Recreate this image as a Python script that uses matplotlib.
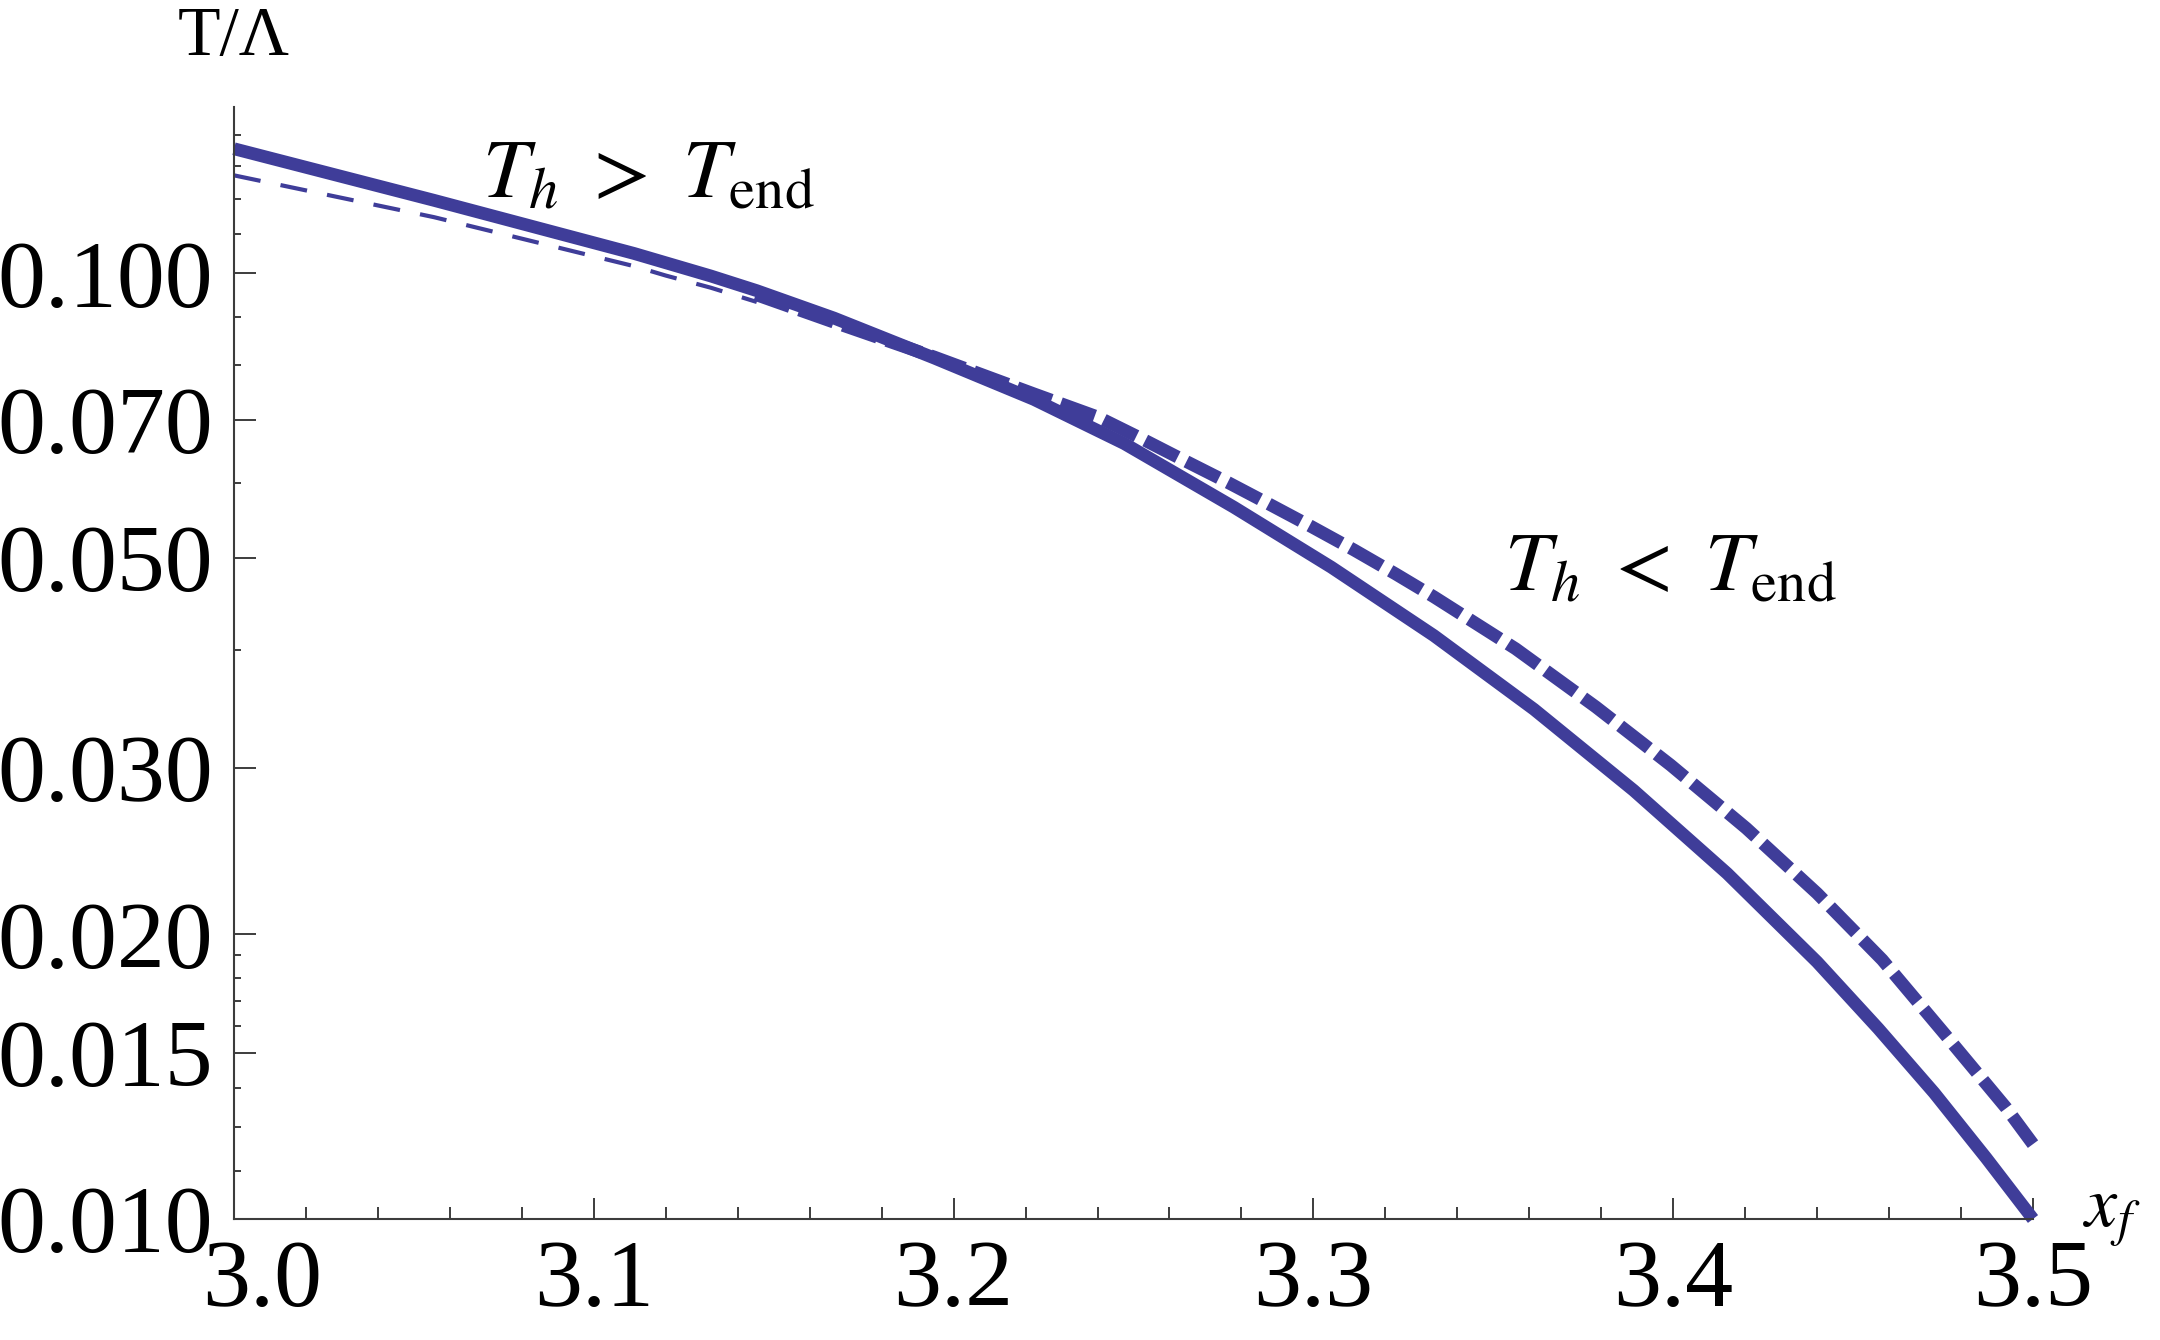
import matplotlib
matplotlib.use("Agg")
import matplotlib.pyplot as plt
from matplotlib.transforms import ScaledTranslation

plt.rcParams['font.family'] = ['Liberation Serif', 'DejaVu Serif']
plt.rcParams['mathtext.fontset'] = 'stix'

# values (x_f, T/Lambda)
# solid curve: the branch with the kink near x_f = 3.25
solid_x = [3.0, 3.0556, 3.1112, 3.1325, 3.1453, 3.1668, 3.1946, 3.2223, 3.2474,
           3.2779, 3.305, 3.3335, 3.3613, 3.389, 3.415, 3.44, 3.457, 3.4725, 3.487, 3.5]
solid_y = [0.1355, 0.1195, 0.1050, 0.0994, 0.0959, 0.0897, 0.0814, 0.0736, 0.0661,
           0.0566, 0.0489, 0.0414, 0.0346, 0.0284, 0.0232, 0.0187, 0.0159, 0.0136, 0.0116, 0.0100]

# thin dashed piece (left)
dash_thin_x = [3.0, 3.0556, 3.1112, 3.12, 3.1325, 3.1453]
dash_thin_y = [0.127, 0.1147, 0.1018, 0.0995, 0.0966, 0.0933]

# thick dashed piece (right)
dash_thick_x = [3.145, 3.1668, 3.1946, 3.2223, 3.2401, 3.2522, 3.2642, 3.2763, 3.2878,
                3.2994, 3.3113, 3.3229, 3.3335, 3.3562, 3.3785, 3.3993, 3.4203, 3.44,
                3.4581, 3.4754, 3.4926, 3.5]
dash_thick_y = [0.0950, 0.0888, 0.0816, 0.0746, 0.0705, 0.0669, 0.0634, 0.0601, 0.0570,
                0.0540, 0.0510, 0.0481, 0.0455, 0.0401, 0.0348, 0.0302, 0.0259, 0.0221,
                0.0188, 0.0157, 0.0131, 0.0120]

x_major = [3.0, 3.1, 3.2, 3.3, 3.4, 3.5]
x_labels = ['3.0', '3.1', '3.2', '3.3', '3.4', '3.5']
x_minor = [3.02, 3.04, 3.06, 3.08, 3.12, 3.14, 3.16, 3.18, 3.22, 3.24, 3.26, 3.28,
           3.32, 3.34, 3.36, 3.38, 3.42, 3.44, 3.46, 3.48]
y_major = [0.010, 0.015, 0.020, 0.030, 0.050, 0.070, 0.100]
y_labels = ['0.010', '0.015', '0.020', '0.030', '0.050', '0.070', '0.100']
y_minor = [0.01125, 0.0125, 0.01375, 0.016, 0.017, 0.018, 0.019, 0.04, 0.06,
           0.08, 0.09, 0.11, 0.12, 0.13, 0.14]

col = '#3f3d99'
axcol = '#3c3c3c'

fig = plt.figure(figsize=(21.6, 13.4), dpi=100)
ax = fig.add_axes([234/2160, 121/1340, 1799/2160, 1112/1340])

ax.plot(dash_thin_x, dash_thin_y, color=col, lw=3.0, dashes=(6.5, 4.9), clip_on=False)
ax.plot(dash_thick_x, dash_thick_y, color=col, lw=9.2, dashes=(2.85, 0.77),
        dash_capstyle='butt', dash_joinstyle='round', clip_on=False)
ax.plot(solid_x, solid_y, color=col, lw=9.2, solid_capstyle='butt',
        solid_joinstyle='round', clip_on=False)

ax.set_yscale('log')
ax.set_xlim(3.0, 3.5)
ax.set_ylim(0.01, 0.15)

ax.set_xticks(x_major)
ax.set_xticklabels(x_labels)
ax.set_xticks(x_minor, minor=True)
ax.set_yticks(y_major)
ax.set_yticklabels(y_labels)
ax.set_yticks(y_minor, minor=True)
ax.set_yticklabels([], minor=True)

for s in ['top', 'right']:
    ax.spines[s].set_visible(False)
for s in ['left', 'bottom']:
    ax.spines[s].set_color(axcol)
    ax.spines[s].set_linewidth(1.5)

ax.tick_params(which='both', direction='in', color=axcol, width=1.4, labelsize=69, pad=15)
ax.tick_params(axis='x', which='major', length=15)
ax.tick_params(axis='x', which='minor', length=9)
ax.tick_params(axis='y', which='major', length=16)
ax.tick_params(axis='y', which='minor', length=5)

# first x label sits a bit to the right in the reference
lbl = ax.xaxis.get_major_ticks()[0].label1
lbl.set_transform(lbl.get_transform() + ScaledTranslation(0.28, 0, fig.dpi_scale_trans))

fig.text(234/2160, 1 - 55/1340, 'T/Λ', fontsize=50, ha='center', va='baseline')
fig.text(2083/2160, 1 - 1227/1340, r'$x_f$', fontsize=52, ha='left', va='baseline')
fig.text(482/2160, 1 - 197/1340, r'$T_h\ >\ T_{\mathrm{end}}$', fontsize=60, ha='left', va='baseline')
fig.text(1504/2160, 1 - 590/1340, r'$T_h\ <\ T_{\mathrm{end}}$', fontsize=60, ha='left', va='baseline')

fig.savefig('out.png', dpi=100)
